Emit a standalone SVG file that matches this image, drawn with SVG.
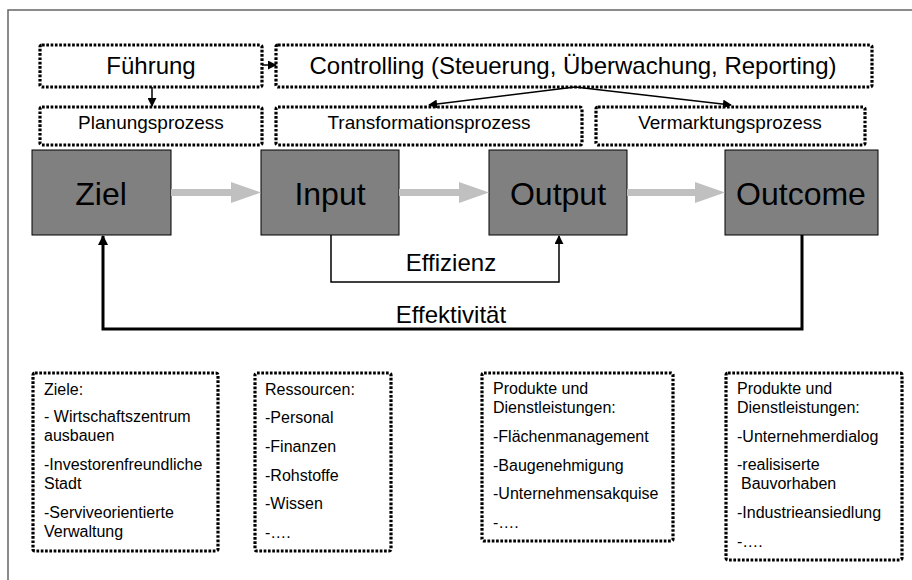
<svg xmlns="http://www.w3.org/2000/svg" width="912" height="580" viewBox="0 0 912 580">
  <defs>
    <style>
      text { font-family: "Liberation Sans", Arial, sans-serif; fill: #000; }
      .dot { fill: #fff; stroke: #000; stroke-width: 3.2; stroke-dasharray: 2.7 1.6; }
      .stage { fill: #808080; stroke: #000; stroke-width: 1; }
      .stage-label { font-size: 32px; text-anchor: middle; }
      .head-label { font-size: 24px; text-anchor: middle; }
      .proc-label { font-size: 19px; text-anchor: middle; }
      .list { font-size: 16px; }
      .flow { fill: #c0c0c0; }
      .link { fill: none; stroke: #000; stroke-width: 1.5; }
      .link-bold { fill: none; stroke: #000; stroke-width: 3; }
      .link-label { font-size: 24px; text-anchor: middle; }
    </style>
    <marker id="tip-s" viewBox="0 0 10 10" refX="9" refY="5" markerWidth="9" markerHeight="9" orient="auto" markerUnits="userSpaceOnUse">
      <path d="M0,0 L10,5 L0,10 Z" fill="#000"/>
    </marker>
    <marker id="tip-l" viewBox="0 0 10 10" refX="9" refY="5" markerWidth="11" markerHeight="10" orient="auto" markerUnits="userSpaceOnUse">
      <path d="M0,0 L10,5 L0,10 Z" fill="#000"/>
    </marker>
  </defs>

  <!-- page frame -->
  <rect x="8" y="10" width="920" height="590" fill="#fff" stroke="#666" stroke-width="1.5"/>

  <!-- management layer -->
  <g id="fuehrung">
    <rect class="dot" x="40" y="45" width="222" height="42" rx="2"/>
    <text class="head-label" x="151" y="74">Führung</text>
  </g>
  <g id="controlling">
    <rect class="dot" x="276" y="45" width="596" height="42" rx="2"/>
    <text class="head-label" x="573" y="74">Controlling (Steuerung, Überwachung, Reporting)</text>
  </g>

  <!-- process layer -->
  <g id="planungsprozess">
    <rect class="dot" x="40" y="107" width="222" height="38" rx="2"/>
    <text class="proc-label" x="151" y="129">Planungsprozess</text>
  </g>
  <g id="transformationsprozess">
    <rect class="dot" x="276" y="107" width="306" height="38" rx="2"/>
    <text class="proc-label" x="429" y="129">Transformationsprozess</text>
  </g>
  <g id="vermarktungsprozess">
    <rect class="dot" x="596" y="107" width="269" height="38" rx="2"/>
    <text class="proc-label" x="730" y="129">Vermarktungsprozess</text>
  </g>

  <!-- stages -->
  <g id="ziel">
    <rect class="stage" x="32" y="150" width="139" height="85"/>
    <text class="stage-label" x="101" y="205">Ziel</text>
  </g>
  <g id="input">
    <rect class="stage" x="261" y="150" width="138" height="85"/>
    <text class="stage-label" x="330" y="205">Input</text>
  </g>
  <g id="output">
    <rect class="stage" x="489" y="150" width="138" height="85"/>
    <text class="stage-label" x="558" y="205">Output</text>
  </g>
  <g id="outcome">
    <rect class="stage" x="725" y="150" width="153" height="85"/>
    <text class="stage-label" x="801" y="205">Outcome</text>
  </g>

  <!-- detail boxes -->
  <g id="ziele">
    <rect class="dot" x="33" y="373" width="185" height="178" rx="2"/>
    <text class="list" x="44" y="395">Ziele:</text>
    <text class="list" x="44" y="422">- Wirtschaftszentrum</text>
    <text class="list" x="44" y="441">ausbauen</text>
    <text class="list" x="44" y="470">-Investorenfreundliche</text>
    <text class="list" x="44" y="489">Stadt</text>
    <text class="list" x="44" y="518">-Serviveorientierte</text>
    <text class="list" x="44" y="537">Verwaltung</text>
  </g>
  <g id="ressourcen">
    <rect class="dot" x="255" y="373" width="136" height="178" rx="2"/>
    <text class="list" x="265" y="395">Ressourcen:</text>
    <text class="list" x="265" y="423">-Personal</text>
    <text class="list" x="265" y="452">-Finanzen</text>
    <text class="list" x="265" y="481">-Rohstoffe</text>
    <text class="list" x="265" y="509">-Wissen</text>
    <text class="list" x="265" y="538">-….</text>
  </g>
  <g id="produkte-output">
    <rect class="dot" x="482" y="373" width="191" height="168" rx="2"/>
    <text class="list" x="493" y="394">Produkte und</text>
    <text class="list" x="493" y="413">Dienstleistungen:</text>
    <text class="list" x="493" y="442">-Flächenmanagement</text>
    <text class="list" x="493" y="471">-Baugenehmigung</text>
    <text class="list" x="493" y="499">-Unternehmensakquise</text>
    <text class="list" x="493" y="528">-….</text>
  </g>
  <g id="produkte-outcome">
    <rect class="dot" x="726" y="373" width="176" height="187" rx="2"/>
    <text class="list" x="737" y="394">Produkte und</text>
    <text class="list" x="737" y="413">Dienstleistungen:</text>
    <text class="list" x="737" y="442">-Unternehmerdialog</text>
    <text class="list" x="737" y="470">-realisiserte</text>
    <text class="list" x="741" y="489">Bauvorhaben</text>
    <text class="list" x="737" y="518">-Industrieansiedlung</text>
    <text class="list" x="737" y="547">-….</text>
  </g>

  <!-- connectors -->
  <g id="connectors">
    <!-- main flow -->
    <path class="flow" d="M171,189 H231 V182 L261,192.5 L231,203 V196 H171 Z"/>
    <path class="flow" d="M399,189 H459 V182 L489,192.5 L459,203 V196 H399 Z"/>
    <path class="flow" d="M627,189 H695 V182 L725,192.5 L695,203 V196 H627 Z"/>

    <!-- management arrows -->
    <path class="link" d="M152,87 V106" marker-end="url(#tip-s)"/>
    <path class="link" d="M262,65 H276" marker-end="url(#tip-s)"/>
    <path class="link" d="M575,87 L429,105" marker-end="url(#tip-s)"/>
    <path class="link" d="M575,87 L731,105" marker-end="url(#tip-s)"/>

    <!-- Effizienz -->
    <path class="link" d="M331,235 V282 H559 V236" marker-end="url(#tip-s)"/>
    <text class="link-label" x="451" y="271">Effizienz</text>

    <!-- Effektivität -->
    <path class="link-bold" d="M802,235 V329 H103 V236" marker-end="url(#tip-l)"/>
    <text class="link-label" x="451" y="323">Effektivität</text>
  </g>
</svg>
